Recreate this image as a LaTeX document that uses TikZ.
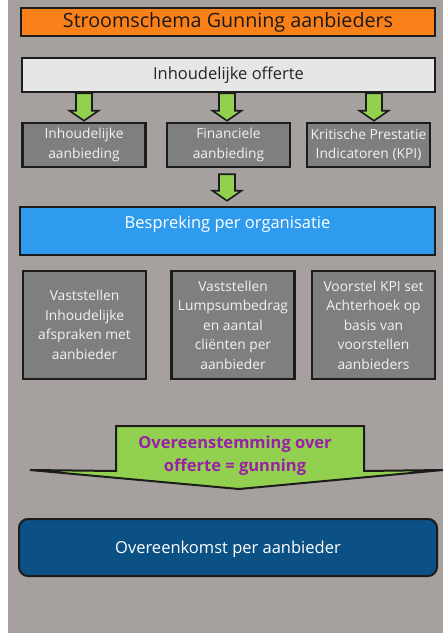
\documentclass[tikz,border=0pt]{standalone}
\usepackage{fontspec}
\setmainfont{Open Sans}
\usetikzlibrary{calc}
\definecolor{bgray}{HTML}{A6A09F}
\definecolor{orng}{HTML}{FA8019}
\definecolor{lgray}{HTML}{E6E6E6}
\definecolor{dgray}{HTML}{7F7F7F}
\definecolor{agreen}{HTML}{92D050}
\definecolor{bblue}{HTML}{2E9BEE}
\definecolor{dblue}{HTML}{0C5185}
\definecolor{purp}{HTML}{9B1FA8}
\definecolor{edge}{HTML}{1C1C1C}
\definecolor{wtext}{HTML}{F2F2F2}
\tikzset{
  box/.style={draw=edge, line width=2.5pt, rectangle, inner sep=1pt, align=center},
  titlebox/.style={box, fill=orng, minimum width=414pt, minimum height=28pt, font=\fontsize{19.7}{23}\selectfont, text=black!90},
  offbox/.style={box, fill=lgray, minimum width=413pt, minimum height=34pt, font=\fontsize{16.5}{19}\selectfont, text=black!85},
  smallbox/.style={box, fill=dgray, minimum width=123pt, minimum height=44pt, font=\fontsize{13.8}{19.5}\selectfont, text=wtext},
  bluebox/.style={box, fill=bblue, minimum width=415pt, minimum height=48pt, font=\fontsize{16.5}{19}\selectfont, text=white, text height=18pt, text depth=24pt, inner ysep=3pt},
  tallbox/.style={box, fill=dgray, minimum width=123pt, minimum height=108pt, font=\fontsize{13.8}{19.5}\selectfont, text=wtext},
  darkbox/.style={draw=edge, line width=2pt, rounded corners=9pt, fill=dblue, minimum width=418pt, minimum height=57pt, font=\fontsize{16.5}{19}\selectfont, text=white, text height=14pt, text depth=2pt},
  arrowstyle/.style={draw=edge, fill=agreen, line width=1.6pt, line join=miter},
  bigarrow/.style={draw=edge, fill=agreen, line width=2pt, line join=miter, miter limit=3},
  purptext/.style={font=\bfseries\fontsize{16.5}{23}\selectfont, text=purp, align=center}
}
\newcommand\blockarrow[2]{%
  \draw[arrowstyle] let \p1=(#1), \p2=(#2) in
   (\x1-8pt,\y1) -- (\x1+8pt,\y1) -- (\x1+8pt,\y2+10pt) -- (\x1+14.5pt,\y2+10pt)
   -- (\x1,\y2) -- (\x1-14.5pt,\y2+10pt) -- (\x1-8pt,\y2+10pt) -- cycle;}
\begin{document}
\begin{tikzpicture}[x=1pt,y=-1pt]
\useasboundingbox (0,0) rectangle (443,634);
\fill[white] (0,0) rectangle (443,634);
\fill[bgray] (8,0) rectangle (443,633);

\node[titlebox] (title) at (228,22) {Stroomschema Gunning aanbieders};
\node[offbox] (offerte) at (228.5,75) {Inhoudelijke offerte};

\node[smallbox] (b1) at (84,145) {Inhoudelijke\\aanbieding};
\node[smallbox] (b2) at (228.5,145) {Financiele\\aanbieding};
\node[smallbox] (b3) at (368.5,145) {Kritische Prestatie\\Indicatoren (KPI)};

\node[bluebox] (bespreking) at (227.5,231) {Bespreking per organisatie};

\node[tallbox] (t1) at (84.5,325) {Vaststellen\\Inhoudelijke\\afspraken met\\aanbieder};
\node[tallbox] (t2) at (233,325) {Vaststellen\\Lumpsumbedrag\\en aantal\\cliënten per\\aanbieder};
\node[tallbox] (t3) at (373.5,325) {Voorstel KPI set\\Achterhoek op\\basis van\\voorstellen\\aanbieders};

\node[darkbox] (overeenkomst) at (228,547.5) {Overeenkomst per aanbieder};

% small block arrows
\coordinate (a1s) at (offerte.south -| b1.north);
\coordinate (a1e) at ($(b1.north)+(0,-1)$);
\coordinate (a2s) at ($(offerte.south -| b2.north)+(-1.5,0)$);
\coordinate (a2e) at ($(b2.north)+(-1.5,-1)$);
\coordinate (a3s) at ($(offerte.south -| b3.north)+(5.5,0)$);
\coordinate (a3e) at ($(b3.north)+(5.5,-1)$);
\coordinate (m1) at ($(b2.south)+(-1.5,6)$);
\coordinate (m2) at ($(m1 |- bespreking.north)+(0,-5)$);
\blockarrow{a1s}{a1e}
\blockarrow{a2s}{a2e}
\blockarrow{a3s}{a3e}
\blockarrow{m1}{m2}

% big arrow
\draw[bigarrow] (116,426) -- (364,426) -- (364,471) -- (443,470) -- (239,489)
  -- (30,470) -- (116,471) -- cycle;
\node[purptext] (gunning) at (235,456) {Overeenstemming over\\offerte = gunning};
\end{tikzpicture}
\end{document}
